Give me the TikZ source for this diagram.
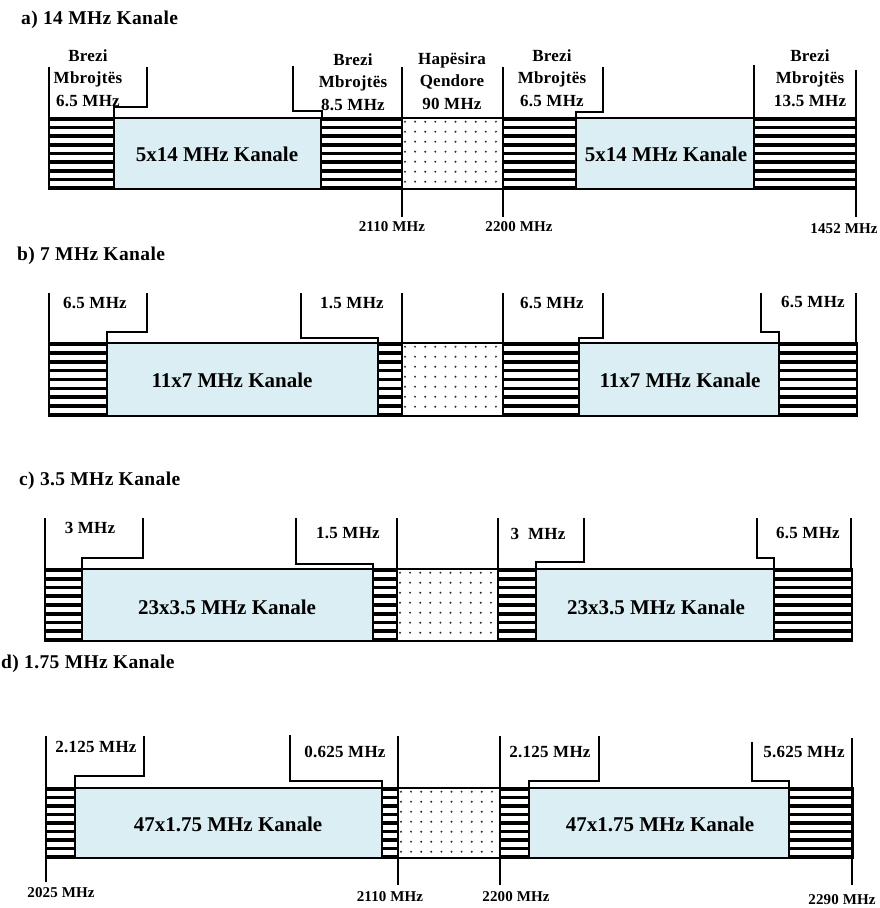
\documentclass[tikz,border=0pt]{standalone}
\usepackage{fontspec}
\setmainfont{Liberation Serif}
\newfontfamily\ttlf[LetterSpace=2]{Liberation Serif}
\newfontfamily\lblf[LetterSpace=1.5]{Liberation Serif}
\newfontfamily\frqf[LetterSpace=1]{Liberation Serif}
\definecolor{chanblue}{RGB}{219,238,244}
\definecolor{dotc}{RGB}{45,45,45}

\newcommand\stripeblock[4]{%
  \fill[white] (#1,#2) rectangle (#3,#4);
  \begin{scope}
    \clip (#1,#2) rectangle (#3,#4);
    \pgfmathsetmacro\per{(#4-#2-2)/8}
    \foreach \k in {0,...,8}
      \draw[line width=3.6pt] (#1,{#2+1+\k*\per}) -- (#3,{#2+1+\k*\per});
  \end{scope}
  \draw[outline] (#1,#2) rectangle (#3,#4);
}
\newcommand\dotblock[4]{%
  \fill[white] (#1,#2) rectangle (#3,#4);
  \foreach \i in {0,...,9}
    \foreach \j in {0,...,6}
      \fill[dotc] ({#1+3+\i*10.1},{#2+3.7+\j*10}) circle (1.1);
  \draw[outline] (#1,#2) rectangle (#3,#4);
}
\newcommand\chanblock[4]{%
  \filldraw[fill=chanblue, outline] (#1,#2) rectangle (#3,#4);
}

\begin{document}
\begin{tikzpicture}[x=1pt, y=-1pt,
  outline/.style={line width=1.5pt},
  brk/.style={line width=1.4pt, line join=miter},
  ttl/.style={anchor=west, inner sep=0pt, font={\ttlf\fontsize{19.5}{22}\selectfont\bfseries}},
  lbl/.style={align=center, inner sep=0pt, font={\lblf\fontsize{17}{22.5}\selectfont\bfseries}},
  frq/.style={inner sep=0pt, font={\frqf\fontsize{15}{17}\selectfont\bfseries}},
  chan/.style={inner sep=0pt, font={\fontsize{21}{24}\selectfont\bfseries}}]
\useasboundingbox[fill=white] (0,0) rectangle (879,908);

% ---------------- a) ----------------
\node[ttl] (ta) at (21,20) {a) 14 MHz Kanale};
\stripeblock{49}{118}{114}{189}
\chanblock{114}{118}{321}{189}
\stripeblock{321}{118}{402}{189}
\dotblock{402}{118}{503}{189}
\stripeblock{503}{118}{576}{189}
\chanblock{576}{118}{754}{189}
\stripeblock{754}{118}{856}{189}
\node[chan] (a1) at (217,154) {5x14 MHz Kanale};
\node[chan] (a2) at (666,154) {5x14 MHz Kanale};
\draw[brk] (49,67) -- (49,118);
\draw[brk] (147,67) -- (147,107) -- (114,107) -- (114,118);
\draw[brk] (293,66) -- (293,111) -- (322,111) -- (322,118);
\draw[brk] (402,67) -- (402,217);
\draw[brk] (503,67) -- (503,217);
\draw[brk] (603,67) -- (603,112) -- (576,112) -- (576,118);
\draw[brk] (754,65) -- (754,118);
\draw[brk] (856,70) -- (856,217);
\node[lbl] (la1) at (88,78) {Brezi\\Mbrojtës\\6.5 MHz};
\node[lbl] (la2) at (353,82) {Brezi\\Mbrojtës\\8.5 MHz};
\node[lbl] (la3) at (452,81) {Hapësira\\Qendore\\90 MHz};
\node[lbl] (la4) at (552,78) {Brezi\\Mbrojtës\\6.5 MHz};
\node[lbl] (la5) at (810,78) {Brezi\\Mbrojtës\\13.5 MHz};
\node[frq] (fa1) at (392,227) {2110 MHz};
\node[frq] (fa2) at (519,227) {2200 MHz};
\node[frq] (fa3) at (844,229) {1452 MHz};

% ---------------- b) ----------------
\node[ttl] (tb) at (17,256) {b) 7 MHz Kanale};
\stripeblock{49}{343}{107}{416}
\chanblock{107}{343}{378}{416}
\stripeblock{378}{343}{402}{416}
\dotblock{402}{343}{503}{416}
\stripeblock{503}{343}{579}{416}
\chanblock{579}{343}{779}{416}
\stripeblock{779}{343}{857}{416}
\node[chan] (b1) at (232,380) {11x7 MHz Kanale};
\node[chan] (b2) at (680,380) {11x7 MHz Kanale};
\draw[brk] (49,293) -- (49,343);
\draw[brk] (147,293) -- (147,332) -- (107,332) -- (107,343);
\draw[brk] (301,293) -- (301,338) -- (378,338) -- (378,343);
\draw[brk] (402,293) -- (402,343);
\draw[brk] (503,293) -- (503,343);
\draw[brk] (603,293) -- (603,338) -- (579,338) -- (579,343);
\draw[brk] (761,293) -- (761,332) -- (779,332) -- (779,343);
\draw[brk] (856,293) -- (856,343);
\node[lbl] (lb1) at (95,303) {6.5 MHz};
\node[lbl] (lb2) at (352,303) {1.5 MHz};
\node[lbl] (lb3) at (552,303) {6.5 MHz};
\node[lbl] (lb4) at (813,302) {6.5 MHz};

% ---------------- c) ----------------
\node[ttl] (tc) at (19,481) {c) 3.5 MHz Kanale};
\stripeblock{45}{569}{82}{641}
\chanblock{82}{569}{373}{641}
\stripeblock{373}{569}{397}{641}
\dotblock{397}{569}{498}{641}
\stripeblock{498}{569}{536}{641}
\chanblock{536}{569}{774}{641}
\stripeblock{774}{569}{852}{641}
\node[chan] (c1) at (227,607) {23x3.5 MHz Kanale};
\node[chan] (c2) at (656,607) {23x3.5 MHz Kanale};
\draw[brk] (45,518) -- (45,569);
\draw[brk] (143,518) -- (143,558) -- (82,558) -- (82,569);
\draw[brk] (296,518) -- (296,564) -- (373,564) -- (373,569);
\draw[brk] (397,518) -- (397,569);
\draw[brk] (498,518) -- (498,569);
\draw[brk] (584,518) -- (584,562) -- (536,562) -- (536,569);
\draw[brk] (757,518) -- (757,558) -- (774,558) -- (774,569);
\draw[brk] (851,518) -- (851,569);
\node[lbl] (lc1) at (90,528) {3 MHz};
\node[lbl] (lc2) at (348,533) {1.5 MHz};
\node[lbl] (lc3) at (538,534) {3\ \ MHz};
\node[lbl] (lc4) at (808,533) {6.5 MHz};

% ---------------- d) ----------------
\node[ttl] (td) at (1,664) {d) 1.75 MHz Kanale};
\stripeblock{46}{788}{75}{858}
\chanblock{75}{788}{382}{858}
\stripeblock{382}{788}{398}{858}
\dotblock{398}{788}{500}{858}
\stripeblock{500}{788}{529}{858}
\chanblock{529}{788}{789}{858}
\stripeblock{789}{788}{853}{858}
\node[chan] (d1) at (228,824) {47x1.75 MHz Kanale};
\node[chan] (d2) at (660,824) {47x1.75 MHz Kanale};
\draw[brk] (46,736) -- (46,882);
\draw[brk] (144,736) -- (144,776) -- (75,776) -- (75,788);
\draw[brk] (290,735) -- (290,781) -- (382,781) -- (382,788);
\draw[brk] (398,736) -- (398,885);
\draw[brk] (500,736) -- (500,885);
\draw[brk] (599,736) -- (599,781) -- (529,781) -- (529,788);
\draw[brk] (752,742) -- (752,781) -- (789,781) -- (789,788);
\draw[brk] (852,738) -- (852,885);
\node[lbl] (ld1) at (96,747) {2.125 MHz};
\node[lbl] (ld2) at (345,752) {0.625 MHz};
\node[lbl] (ld3) at (550,752) {2.125 MHz};
\node[lbl] (ld4) at (804,752) {5.625 MHz};
\node[frq] (fd1) at (61,893) {2025 MHz};
\node[frq] (fd2) at (390,897) {2110 MHz};
\node[frq] (fd3) at (516,897) {2200 MHz};
\node[frq] (fd4) at (842,900) {2290 MHz};
\end{tikzpicture}
\end{document}
